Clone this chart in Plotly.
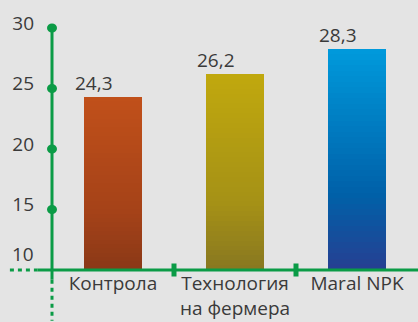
import plotly.graph_objects as go

categories = ["Контрола", "Технология<br>на фермера", "Maral NPK"]
values = [24.3, 26.2, 28.3]
value_labels = ["24,3", "26,2", "28,3"]
y_ticks = [15, 20, 25, 30]
y_base_tick = 10

top_colors = [(192, 80, 26), (192, 168, 14), (0, 153, 219)]
mid_colors = [(165, 66, 24), (165, 145, 22), (0, 96, 168)]
bot_colors = [(137, 56, 23), (135, 118, 33), (40, 62, 145)]

GREEN = "#0b9b46"
TEXT = "#3a3a3a"
FONT = "Open Sans"
BASE = 10
YMAX = 30
N = 40

def lerp(a, b, t):
    return tuple(int(round(a[i] + (b[i] - a[i]) * t)) for i in range(3))

def grad(i, f):
    # f: 0 bottom -> 1 top
    if f >= 0.35:
        return lerp(mid_colors[i], top_colors[i], (f - 0.35) / 0.65)
    return lerp(bot_colors[i], mid_colors[i], f / 0.35)

fig = go.Figure()
for i, (c, v) in enumerate(zip(categories, values)):
    for k in range(N, 0, -1):
        f = k / N
        col = grad(i, f)
        fig.add_trace(go.Bar(
            x=[c], y=[(v - BASE) * f], base=[BASE],
            marker=dict(color="rgb(%d,%d,%d)" % col, line=dict(width=0)),
            width=0.47, showlegend=False, hoverinfo="skip",
        ))

for c, v, lab in zip(categories, values, value_labels):
    fig.add_annotation(x=c, y=v, text=lab, showarrow=False, xanchor="right",
                       yanchor="bottom", yshift=-1, xshift=2,
                       font=dict(size=19, color=TEXT, family=FONT))

# bottom "10" tick label sits above the axis line
fig.add_annotation(xref="paper", yref="paper", x=0, y=0, text=str(y_base_tick),
                   showarrow=False, xanchor="right", yanchor="bottom",
                   xshift=-16, yshift=1, font=dict(size=19, color=TEXT, family=FONT))

shapes = []
# y axis solid
shapes.append(dict(type="line", xref="paper", yref="paper", x0=0, x1=0, y0=1, y1=-0.04,
                   line=dict(color=GREEN, width=3)))
# y axis dashed below
shapes.append(dict(type="line", xref="paper", yref="paper", x0=0, x1=0, y0=-0.04, y1=-0.21,
                   line=dict(color=GREEN, width=3, dash="4px,4px")))
# x axis solid
shapes.append(dict(type="line", xref="paper", yref="paper", x0=-0.04, x1=1, y0=0, y1=0,
                   line=dict(color=GREEN, width=3)))
# x axis dashed left
shapes.append(dict(type="line", xref="paper", yref="paper", x0=-0.115, x1=-0.04, y0=0, y1=0,
                   line=dict(color=GREEN, width=3, dash="4px,4px")))
# dots on y axis at tick positions
for t in y_ticks:
    shapes.append(dict(type="circle", xref="paper", yref="paper", xsizemode="pixel", ysizemode="pixel",
                       xanchor=0, yanchor=(t - BASE) / (YMAX - BASE), x0=-5, x1=5, y0=-4.5, y1=4.5,
                       fillcolor=GREEN, line=dict(width=0)))
# separator marks on x axis
for xp in [1 / 3, 2 / 3]:
    shapes.append(dict(type="rect", xref="paper", yref="paper", xsizemode="pixel", ysizemode="pixel",
                       xanchor=xp, yanchor=0, x0=-2.5, x1=2.5, y0=-6.5, y1=6.5,
                       fillcolor=GREEN, line=dict(width=0)))

fig.update_layout(
    width=418, height=322,
    margin=dict(l=52, r=0, t=28, b=52, autoexpand=False),
    paper_bgcolor="#e4e4e4", plot_bgcolor="#e4e4e4",
    barmode="overlay", bargap=0,
    shapes=shapes,
    font=dict(family=FONT, color=TEXT, size=19),
    xaxis=dict(showline=False, showgrid=False, zeroline=False, ticks="", automargin=False,
               tickfont=dict(size=19, color=TEXT, family=FONT), range=[-0.5, 2.5],
               ticklabelstandoff=0),
    yaxis=dict(range=[BASE, YMAX], tickvals=y_ticks, showgrid=False, zeroline=False,
               showline=False, ticks="", ticklabelstandoff=17, ticklabelshift=-5,
               automargin=False, tickfont=dict(size=19, color=TEXT, family=FONT)),
)

fig.write_html("out.html")
